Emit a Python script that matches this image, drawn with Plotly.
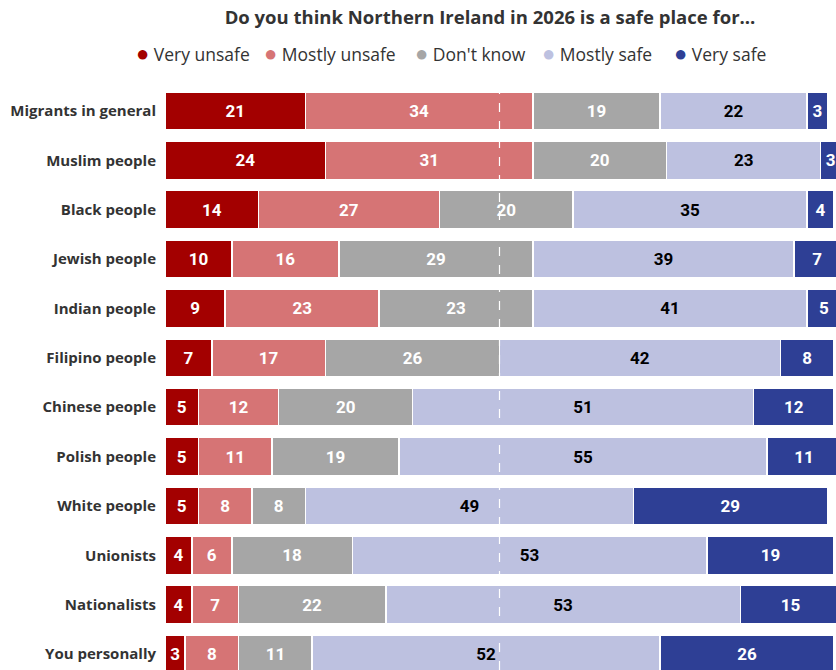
import plotly.graph_objects as go

# Survey: perceived safety of Northern Ireland in 2026, by group (%)
categories = [
    "Migrants in general", "Muslim people", "Black people", "Jewish people",
    "Indian people", "Filipino people", "Chinese people", "Polish people",
    "White people", "Unionists", "Nationalists", "You personally",
]
series_names = ["Very unsafe", "Mostly unsafe", "Don't know", "Mostly safe", "Very safe"]

very_unsafe = [21, 24, 14, 10, 9, 7, 5, 5, 5, 4, 4, 3]
mostly_unsafe = [34, 31, 27, 16, 23, 17, 12, 11, 8, 6, 7, 8]
dont_know = [19, 20, 20, 29, 23, 26, 20, 19, 8, 18, 22, 11]
mostly_safe = [22, 23, 35, 39, 41, 42, 51, 55, 49, 53, 53, 52]
very_safe = [3, 3, 4, 7, 5, 8, 12, 11, 29, 19, 15, 26]

series_values = [very_unsafe, mostly_unsafe, dont_know, mostly_safe, very_safe]
colors = ["#a30000", "#d67475", "#a6a6a6", "#bdc1e0", "#2e3f95"]
text_colors = ["white", "white", "white", "black", "white"]

title_text = "Do you think Northern Ireland in 2026 is a safe place for..."

fig = go.Figure()
for name, vals, col, tcol in zip(series_names, series_values, colors, text_colors):
    fig.add_trace(go.Bar(
        y=categories, x=vals, name=name, orientation="h",
        marker=dict(color=col, line=dict(color="white", width=1.5)),
        text=[str(v) for v in vals], textposition="inside",
        insidetextanchor="middle", textangle=0,
        textfont=dict(family="Roboto", size=17, color=tcol, weight="bold"),
        showlegend=False, hoverinfo="skip",
    ))

# 50% reference line
fig.add_shape(type="line", x0=50, x1=50, y0=0, y1=1, xref="x", yref="paper",
              line=dict(color="white", width=1.2, dash="dash"), layer="above")

# Legend drawn as a row of coloured dots with labels (positions in pixels)
W, H = 836, 670
plot_left, plot_top = 165, 85
plot_w, plot_h = W - plot_left, H - plot_top
legend_px = [134, 262, 413, 540, 672]
legend_py = 52
for name, col, px in zip(series_names, colors, legend_px):
    fig.add_annotation(
        x=(px - plot_left) / plot_w, y=1 + (plot_top - legend_py) / plot_h,
        xref="paper", yref="paper",
        text=f"<span style='color:{col};font-size:22px'>●</span> {name}",
        showarrow=False, xanchor="left", yanchor="middle",
        font=dict(family="Open Sans", size=17.5, color="#333333"),
    )

fig.update_layout(
    width=W, height=H,
    margin=dict(l=plot_left, r=0, t=plot_top, b=0),
    plot_bgcolor="white", paper_bgcolor="white",
    barmode="stack", bargap=0.23,
    uniformtext=dict(minsize=14, mode="show"),
    title=dict(text=title_text, x=490 / W, xanchor="center", y=1 - 18 / H, yanchor="middle",
               font=dict(family="Open Sans", size=18.5, color="#333333", weight="bold")),
    xaxis=dict(range=[0, 100.3], visible=False, fixedrange=True),
    yaxis=dict(type="category", range=[11.324, -0.527], showgrid=False, zeroline=False,
               ticks="", ticklabelstandoff=8,
               tickfont=dict(family="Open Sans", size=15, color="#333333", weight="bold")),
)

fig.write_html("out.html")
